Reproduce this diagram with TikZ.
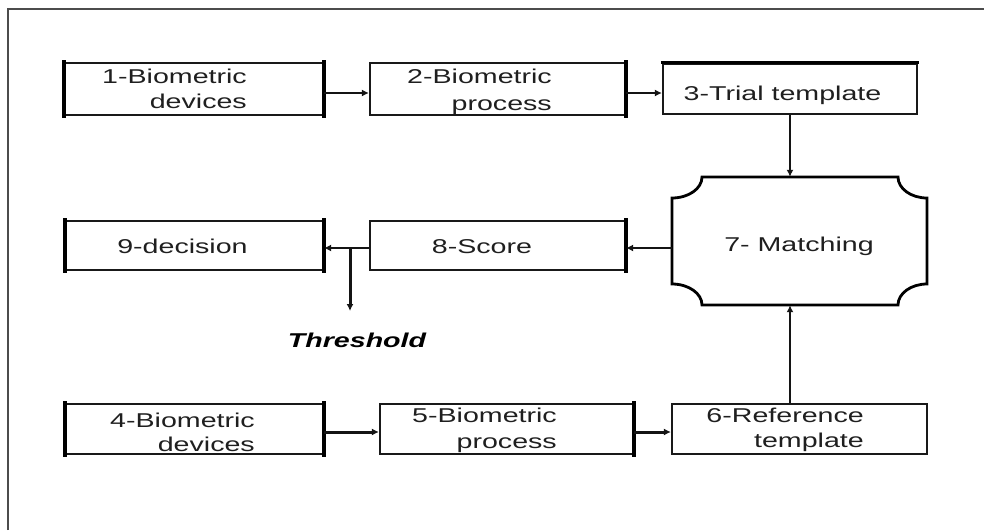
\documentclass[tikz,border=0pt]{standalone}
\usepackage{fontspec}
\setmainfont{Liberation Sans}[FakeStretch=1.43]
\usetikzlibrary{arrows.meta}
\begin{document}
\begin{tikzpicture}[x=1pt,y=-1pt,
  box/.style={draw=black!90, line width=2.2pt, rectangle, inner sep=0pt, minimum height=50pt},
  side/.style={draw=black, line width=4.4pt, line cap=rect},
  lbl/.style={inner sep=0pt, font=\fontsize{20pt}{25pt}\selectfont, text=black!88, align=right},
  arr/.style={draw=black!92, line width=2.4pt, -{Latex[length=7pt,width=7pt]}},
  frame/.style={draw=black!70, line width=1.8pt}]
\useasboundingbox (0,0) rectangle (984,530);
% outer frame (left and top edges visible)
\draw[frame] (8,530) -- (8,9) -- (984,9);
% boxes
\node[box, minimum width=258pt, minimum height=52pt] (b1) at (194,89) {};
\node[box, minimum width=255pt, minimum height=52pt] (b2) at (497.5,89) {};
\node[box, minimum width=254pt] (b3) at (790,89) {};
\node[box, minimum width=255pt, minimum height=49pt] (b8) at (497.5,245.5) {};
\node[box, minimum width=257pt, minimum height=49pt] (b9) at (194.5,245.5) {};
\node[box, minimum width=257pt] (b4) at (194.5,429) {};
\node[box, minimum width=253pt] (b5) at (506.5,429) {};
\node[box, minimum width=255pt] (b6) at (799.5,429) {};
% matching node
\node[inner sep=0pt, minimum width=255pt, minimum height=128pt] (m) at (799.5,241) {};
\draw[draw=black, line width=2.8pt, line join=miter]
  (702,177) -- (898,177) .. controls (898,188.6) and (911,198) .. (927,198)
  -- (927,284) .. controls (911,284) and (898,293.4) .. (898,305)
  -- (702,305) .. controls (702,293.4) and (688.6,284) .. (672,284)
  -- (672,198) .. controls (688.6,198) and (702,188.6) .. (702,177) -- cycle;
% thick sides
\draw[side] (b1.north west) -- (b1.south west);
\draw[side] (b1.north east) -- (b1.south east);
\draw[side] (b2.north east) -- (b2.south east);
\draw[side, line width=3pt, line cap=butt] ([xshift=-1.1pt]b3.north west) -- ([xshift=1.1pt]b3.north east);
\draw[side] (b8.north east) -- (b8.south east);
\draw[side] (b9.north west) -- (b9.south west);
\draw[side] (b9.north east) -- (b9.south east);
\draw[side] (b4.north west) -- (b4.south west);
\draw[side] (b4.north east) -- (b4.south east);
\draw[side] (b5.north east) -- (b5.south east);
% labels
\node[lbl, anchor=base east] (t1) at (247,108) {1-Biometric\\devices};
\node[lbl, anchor=base east, font=\fontsize{20pt}{27pt}\selectfont] (t2) at (552,110) {2-Biometric\hspace{9pt}\\process};
\node[lbl, anchor=base] (t3) at (782.5,100) {3-Trial template};
\node[lbl, anchor=base] (t7) at (799,251) {7- Matching};
\node[lbl, anchor=base] (t8) at (482,253) {8-Score};
\node[lbl, anchor=base] (t9) at (182.5,253) {9-decision};
\node[lbl, anchor=base, font=\fontsize{20pt}{25pt}\selectfont\bfseries\itshape, text=black] (th) at (357,347) {Threshold};
\node[lbl, anchor=base east, font=\fontsize{20pt}{24pt}\selectfont] (t4) at (255,451) {4-Biometric\\devices};
\node[lbl, anchor=base east, font=\fontsize{20pt}{26pt}\selectfont] (t5) at (557,448) {5-Biometric\\process};
\node[lbl, anchor=base east] (t6) at (864,447) {6-Reference\\template};
% connectors
\draw[arr] ([yshift=-4pt]b1.east) -- ([yshift=-4pt]b2.west);
\draw[arr] ([yshift=-4pt]b2.east) -- ([yshift=-4pt]b3.west);
\draw[arr] (b3.south) -- (b3.south |- m.north);
\draw[arr] (b6.north -| b3.south) -- (b3.south |- m.south);
\draw[arr] ([yshift=-7pt]m.west) -- ([yshift=-7pt]m.west -| b8.east);
\draw[arr] ([yshift=-2.5pt]b8.west) -- ([yshift=-2.5pt]b9.east);
\coordinate (br) at (350,248);
\coordinate (thend) at (350,311);
\draw[arr, line width=3pt] (br) -- (thend);
\draw[arr, line width=3pt] ([yshift=-3pt]b4.east) -- ([yshift=-3pt]b5.west);
\draw[arr, line width=3pt] ([yshift=-3pt]b5.east) -- ([yshift=-3pt]b6.west);
\end{tikzpicture}
\end{document}
